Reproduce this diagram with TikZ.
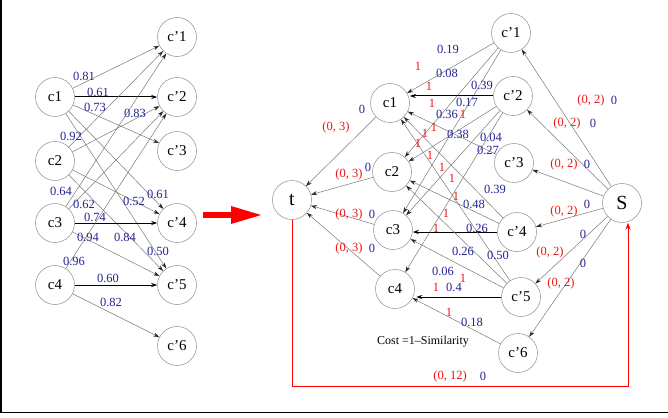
\documentclass[tikz,border=0pt]{standalone}
\usepackage{fontspec}
\setmainfont{Liberation Serif}
\usetikzlibrary{arrows.meta}
\definecolor{lblue}{RGB}{35,35,150}
\definecolor{lred}{RGB}{240,20,20}
\definecolor{edgegray}{RGB}{120,120,120}
\definecolor{circgray}{RGB}{140,140,140}
\begin{document}
\begin{tikzpicture}[x=1pt,y=-1pt,
  nd/.style={circle,draw=circgray,line width=0.5pt,minimum size=39pt,inner sep=0pt,font=\fontsize{15}{15}\selectfont},
  bignd/.style={nd,font=\fontsize{20}{20}\selectfont},
  ed/.style={draw=edgegray,line width=0.5pt,-{Stealth[length=6pt,width=4pt,color=black!85]}},
  thk/.style={draw=black,line width=1pt,-{Stealth[length=6pt,width=4pt]}},
  lb/.style={text=lblue,font=\fontsize{12.5}{12.5}\selectfont,inner sep=0pt},
  lr/.style={text=lred,font=\fontsize{12.5}{12.5}\selectfont,inner sep=0pt},
  redpath/.style={draw=red,line width=1pt,-{Stealth[length=7pt,width=5pt]}}
]
\useasboundingbox (0,0) rectangle (668,417);
\draw[line width=1.5pt] (1,0) -- (1,412.5) -- (668,412.5);

% ---------- left graph ----------
\node[nd] (a1) at (55,97) {c1};
\node[nd] (a2) at (55,161) {c2};
\node[nd] (a3) at (55,223) {c3};
\node[nd] (a4) at (55,285) {c4};
\node[nd] (b1) at (177,37) {c'1};
\node[nd] (b2) at (177,97) {c'2};
\node[nd] (b3) at (177,151) {c'3};
\node[nd] (b4) at (177,223) {c'4};
\node[nd] (b5) at (177,285) {c'5};
\node[nd] (b6) at (177,346) {c'6};

\draw[ed] (a1) -- (b1);
\draw[thk] (a1) -- (b2);
\draw[ed] (a1) -- (b3);
\draw[ed] (a1) -- (b4);
\draw[ed] (a1) -- (b5);
\draw[ed] (a2) -- (b1);
\draw[ed] (a2) -- (b2);
\draw[ed] (a2) -- (b4);
\draw[ed] (a2) -- (b5);
\draw[ed] (a3) -- (b1);
\draw[ed] (a3) -- (b2);
\draw[thk] (a3) -- (b4);
\draw[ed] (a3) -- (b5);
\draw[ed] (a4) -- (b2);
\draw[thk] (a4) -- (b5);
\draw[ed] (a4) -- (b6);

\node[lb] at (84,76) {0.81};
\node[lb] at (98,92) {0.61};
\node[lb] at (95,107) {0.73};
\node[lb] at (135,113) {0.83};
\node[lb] at (71,136) {0.92};
\node[lb] at (61,191) {0.64};
\node[lb] at (84,204) {0.62};
\node[lb] at (95,217) {0.74};
\node[lb] at (88,237) {0.94};
\node[lb] at (134,201) {0.52};
\node[lb] at (158,194) {0.61};
\node[lb] at (125,237) {0.84};
\node[lb] at (158,251) {0.50};
\node[lb] at (74,261) {0.96};
\node[lb] at (108,278) {0.60};
\node[lb] at (111,302) {0.82};

% ---------- big red arrow ----------
\coordinate (ra) at (203,215);
\coordinate (rb) at (263,215);
\draw[red,line width=6pt,-{Triangle[length=32pt,width=16pt]}] (ra) -- (rb);

% ---------- right graph ----------
\node[bignd] (t) at (292,200) {t};
\node[nd] (rc1) at (390,103) {c1};
\node[nd] (rc2) at (392,172) {c2};
\node[nd] (rc3) at (393,230) {c3};
\node[nd] (rc4) at (395,289) {c4};
\node[nd] (rp1) at (511,33) {c'1};
\node[nd] (rp2) at (513,96) {c'2};
\node[nd] (rp3) at (514,163) {c'3};
\node[nd] (rp4) at (517,232) {c'4};
\node[nd] (rp5) at (521,297) {c'5};
\node[nd] (rp6) at (518,353) {c'6};
\node[bignd] (S) at (622,203) {S};

\draw[ed] (rp1) -- (rc1);
\draw[ed] (rp1) -- (rc2);
\draw[ed] (rp1) -- (rc3);
\draw[thk] (rp2.west) -- (rp2.west -| rc1.east);
\draw[ed] (rp2) -- (rc2);
\draw[ed] (rp2) -- (rc3);
\draw[ed] (rp2) -- (rc4);
\draw[ed] (rp3) -- (rc1);
\draw[ed] (rp4) -- (rc1);
\draw[ed] (rp4) -- (rc2);
\draw[thk] (rp4.west) -- (rp4.west -| rc3.east);
\draw[ed] (rp5) -- (rc1);
\draw[ed] (rp5) -- (rc2);
\draw[ed] (rp5) -- (rc3);
\draw[thk,shorten >=1.5pt] (rp5.west) -- (rp5.west -| rc4.east);
\draw[ed] (rp6) -- (rc4);

\draw[ed] (rc1) -- (t);
\draw[ed] (rc2) -- (t);
\draw[ed] (rc3) -- (t);
\draw[ed] (rc4) -- (t);

\draw[ed] (S) -- (rp1);
\draw[ed] (S) -- (rp2);
\draw[ed] (S) -- (rp3);
\draw[ed] (S) -- (rp4);
\draw[ed] (S) -- (rp5);
\draw[ed] (S) -- (rp6);

\coordinate (corner) at (628,386);
\draw[redpath] (t.south) |- (corner) -- ([xshift=6pt]S.south);

% capacities
\foreach \p in {(418,66),(429,86),(432,103),(463,114),(434,127),(425,133),(418,143),(430,155),(442,167),(452,178),(456,196),(446,213),(436,228),(463,278),(436,287),(449,312)}
  \node[lr] at \p {1};

% costs
\node[lb] at (448,49) {0.19};
\node[lb] at (447,73) {0.08};
\node[lb] at (482,85) {0.39};
\node[lb] at (467,102) {0.17};
\node[lb] at (447,114) {0.36};
\node[lb] at (458,134) {0.38};
\node[lb] at (491,137) {0.04};
\node[lb] at (488,150) {0.27};
\node[lb] at (495,189) {0.39};
\node[lb] at (474,204) {0.48};
\node[lb] at (477,228) {0.26};
\node[lb] at (463,251) {0.26};
\node[lb] at (498,255) {0.50};
\node[lb] at (443,271) {0.06};
\node[lb] at (454,287) {0.4};
\node[lb] at (472,322) {0.18};

% t labels
\node[lb] at (362,109) {0};
\node[lr] at (336,127) {(0, 3)};
\node[lr] at (349,174) {(0, 3)};
\node[lb] at (368,167) {0};
\node[lr] at (349,214) {(0, 3)};
\node[lb] at (372,214) {0};
\node[lr] at (349,248) {(0, 3)};
\node[lb] at (372,248) {0};

% S labels
\node[lr] at (591,100) {(0, 2)};
\node[lb] at (614,100) {0};
\node[lr] at (567,123) {(0, 2)};
\node[lb] at (593,123) {0};
\node[lr] at (564,164) {(0, 2)};
\node[lb] at (587,164) {0};
\node[lr] at (564,211) {(0, 2)};
\node[lb] at (587,204) {0};
\node[lb] at (583,234) {0};
\node[lr] at (550,252) {(0, 2)};
\node[lb] at (583,263) {0};
\node[lr] at (561,283) {(0, 2)};

\node[lr] at (450,376) {(0, 12)};
\node[lb] at (483,376) {0};

\node[font=\fontsize{12}{12}\selectfont,inner sep=0pt] (cost) at (423,342) {Cost =1--Similarity};
\end{tikzpicture}
\end{document}
